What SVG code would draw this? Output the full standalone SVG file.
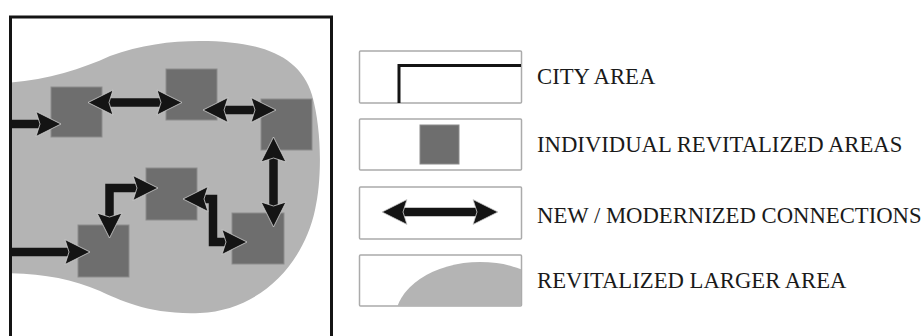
<svg xmlns="http://www.w3.org/2000/svg" width="922" height="336" viewBox="0 0 922 336">
<style>
.blob{fill:#b4b4b4}
.sq{fill:#6e6e6e;stroke:#8c8c8c;stroke-width:1}
.conn{fill:none;stroke:#141414;stroke-width:8.5;stroke-linejoin:miter}
.lbox{fill:#fff;stroke:#ababab;stroke-width:1.5}
.lbl{font-family:"Liberation Serif","Times New Roman",serif;font-size:22.7px;fill:#1a1a1a}
</style>
<defs>
<marker id="ah" markerUnits="userSpaceOnUse" markerWidth="30" markerHeight="30" refX="4.5" refY="12.5" orient="auto-start-reverse" overflow="visible">
<path d="M0,0 L25,12.5 L0,25 L4,12.5 Z" fill="#141414" stroke="#d0d0d0" stroke-width="0.8" stroke-linejoin="miter"/>
</marker>
<clipPath id="frameclip"><rect x="11" y="17" width="320" height="330"/></clipPath>
<clipPath id="box4clip"><rect x="360" y="256" width="161" height="50"/></clipPath>
</defs>
<rect width="922" height="336" fill="#fff"/>
<g id="revitalized-larger-area">
<path class="blob" clip-path="url(#frameclip)" d="M0,83 C40,82 80,70 110,56 C140,45 170,41 200,41 C260,41 300,55 312,95 C322,130 322,180 315,210 C303,265 260,310 200,313 C150,315 120,300 100,291 C70,278 40,273 0,273 Z"/>
</g>
<g id="city-area">
<rect x="10.5" y="17" width="321" height="340" fill="none" stroke="#141414" stroke-width="3"/>
</g>
<g id="area-1"><rect class="sq" x="51" y="87" width="51" height="50"/></g>
<g id="area-2"><rect class="sq" x="166" y="69" width="51" height="51"/></g>
<g id="area-3"><rect class="sq" x="261" y="99" width="51" height="51"/></g>
<g id="area-4"><rect class="sq" x="146" y="168" width="51" height="52"/></g>
<g id="area-5"><rect class="sq" x="78" y="225" width="51" height="52"/></g>
<g id="area-6"><rect class="sq" x="232" y="213" width="52" height="51"/></g>
<g id="connectors">
<path class="conn" d="M10,124 H40.5" marker-end="url(#ah)"/>
<path class="conn" d="M108.5,102.5 H161.5" marker-start="url(#ah)" marker-end="url(#ah)"/>
<path class="conn" d="M223.5,110 H255.5" marker-start="url(#ah)" marker-end="url(#ah)"/>
<path class="conn" d="M273.5,157.5 V206.5" marker-start="url(#ah)" marker-end="url(#ah)"/>
<path class="conn" d="M137.5,188 H109.5 V217.5" marker-start="url(#ah)" marker-end="url(#ah)"/>
<path class="conn" d="M203.5,199 H213 V242 H226.5" marker-start="url(#ah)" marker-end="url(#ah)"/>
<path class="conn" d="M10,252 H69.5" marker-end="url(#ah)"/>
</g>
<g id="legend-city-area">
<rect class="lbox" x="359.5" y="51" width="162" height="52" rx="1"/>
<path d="M399,103 V65.5 H521" fill="none" stroke="#141414" stroke-width="3"/>
<text class="lbl" x="537" y="84">CITY AREA</text>
</g>
<g id="legend-individual">
<rect class="lbox" x="359.5" y="119" width="162" height="51" rx="1"/>
<rect class="sq" x="420" y="125" width="39" height="39"/>
<text class="lbl" x="537" y="152">INDIVIDUAL REVITALIZED AREAS</text>
</g>
<g id="legend-connections">
<rect class="lbox" x="359.5" y="187" width="162" height="52" rx="1"/>
<path class="conn" d="M402.5,212 H477.5" marker-start="url(#ah)" marker-end="url(#ah)"/>
<text class="lbl" x="537" y="223">NEW / MODERNIZED CONNECTIONS</text>
</g>
<g id="legend-larger-area">
<rect class="lbox" x="359.5" y="255" width="162" height="51" rx="1"/>
<ellipse class="blob" clip-path="url(#box4clip)" cx="480" cy="320" rx="85" ry="58"/>
<text class="lbl" x="537" y="288">REVITALIZED LARGER AREA</text>
</g>
</svg>
